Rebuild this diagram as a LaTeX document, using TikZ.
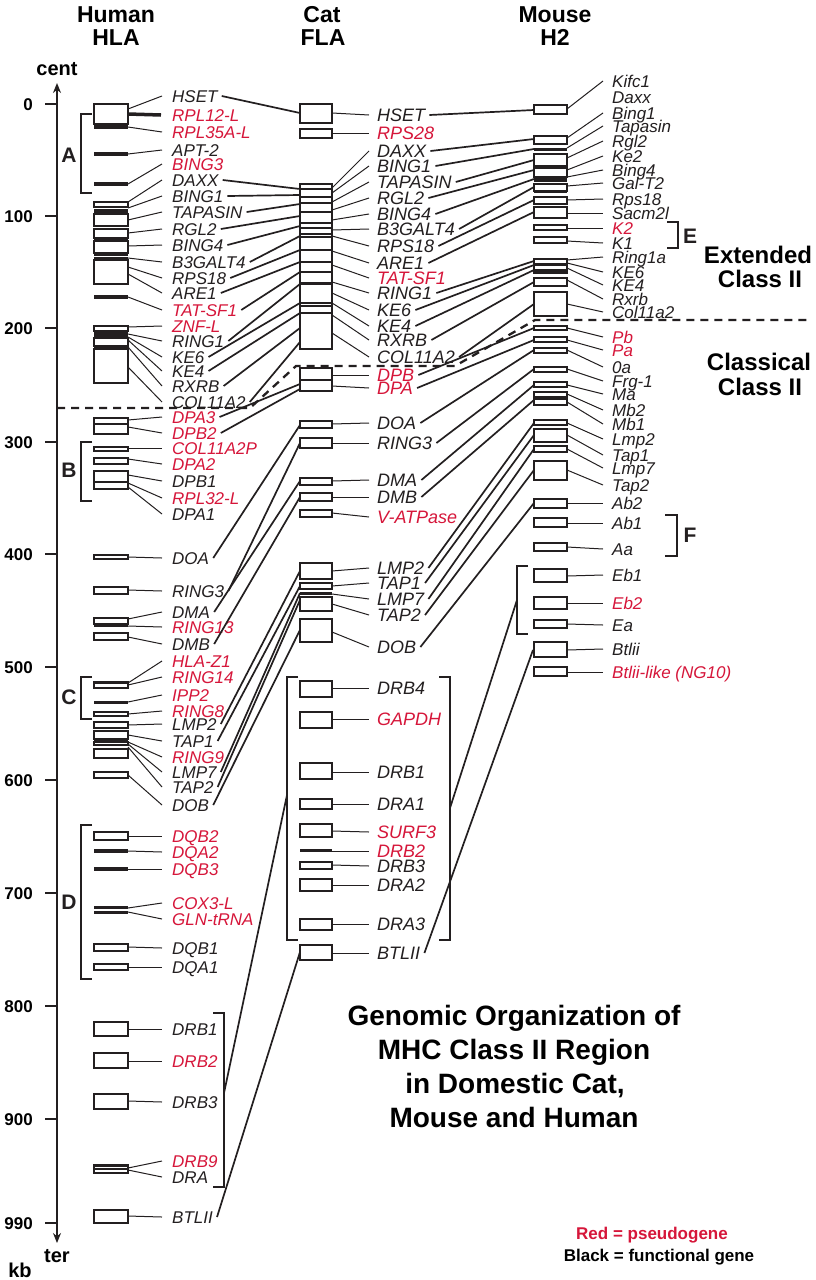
\documentclass[tikz,border=0pt]{standalone}
\usepackage{fontspec}
\setmainfont{Liberation Sans}
\usetikzlibrary{arrows.meta}
\definecolor{ink}{RGB}{35,31,32}
\definecolor{pseudo}{RGB}{214,22,58}
\newcommand\hgene[5]{\node[lab,#5] (#1) at (168,#2) {#3};\draw[gc] (128,#4) -- ([xshift=-6pt]#1.west);}
\newcommand\cgene[5]{\node[clab,#5] (#1) at (373,#2) {#3};\draw[gc] (332,#4) -- ([xshift=-4pt]#1.west);}
\newcommand\mgene[5]{\node[lab,#5] (#1) at (608,#2) {#3};\draw[gc] (567,#4) -- ([xshift=-5pt]#1.west);}
\newcommand\hbx[2]{\draw[gbox] (94,#1) rectangle (128,#2);}
\newcommand\hbr[2]{\fill[ink] (94,#1) rectangle (128,#2);}
\newcommand\cbx[2]{\draw[gbox] (300,#1) rectangle (332,#2);}
\newcommand\cbr[2]{\fill[ink] (300,#1) rectangle (332,#2);}
\newcommand\mbx[2]{\draw[gbox] (534,#1) rectangle (567,#2);}
\newcommand\mbr[2]{\fill[ink] (534,#1) rectangle (567,#2);}
\begin{document}
\begin{tikzpicture}[x=1pt,y=-1pt,
  lab/.style={anchor=west, inner xsep=4pt, inner ysep=0pt, text height=12pt, text depth=0pt, text=ink, font=\fontsize{17}{17}\selectfont\itshape},
  clab/.style={lab, text height=13pt, font=\fontsize{18}{18}\selectfont\itshape},
  ps/.style={text=pseudo},
  blk/.style={},
  gc/.style={draw=ink, line width=1pt},
  xc/.style={draw=ink, line width=1.7pt},
  gbox/.style={draw=ink, line width=1.3pt, fill=white},
  brk/.style={draw=ink, line width=2.3pt},
  hdr/.style={anchor=base, inner sep=0pt, text=black, font=\fontsize{23}{23}\selectfont\bfseries},
  axl/.style={anchor=base, inner sep=0pt, text=black, font=\fontsize{20}{20}\selectfont\bfseries},
  tick/.style={anchor=east, inner sep=0pt, text height=12pt, text depth=0pt, text=black, font=\fontsize{17}{17}\selectfont\bfseries},
  let/.style={inner sep=0pt, text height=14pt, text depth=0pt, text=ink, font=\fontsize{21}{21}\selectfont\bfseries},
  big/.style={anchor=base, inner sep=0pt, text=black, font=\fontsize{24}{24}\selectfont\bfseries},
  ttl/.style={anchor=base, inner sep=0pt, text=black, font=\fontsize{28}{28}\selectfont\bfseries},
  leg/.style={anchor=base, inner sep=0pt, font=\fontsize{17}{17}\selectfont\bfseries}]
\useasboundingbox (0,0) rectangle (815,1280);
\fill[white] (0,0) rectangle (815,1280);

% headers
\node[hdr] (hh1) at (116,22) {Human};
\node[hdr] (hh2) at (116,45) {HLA};
\node[hdr] (ch1) at (322,22) {Cat};
\node[hdr] (ch2) at (323,45) {FLA};
\node[hdr] (mh1) at (555,22) {Mouse};
\node[hdr] (mh2) at (555,45) {H2};

% axis
\draw[ink, line width=2pt, {Stealth[length=10pt,width=8pt]}-{Stealth[length=10pt,width=8pt]}] (57,83) -- (57,1243);
\node[axl] (cent) at (57,75) {cent};
\node[axl] (ter) at (57,1262) {ter};
\node[axl] (kb) at (20,1277) {kb};
\foreach \v/\y in {0/104,100/216,200/328,300/442,400/554,500/667,600/780,700/893,800/1006,900/1119,990/1223}{
  \draw[ink, line width=2pt] (45,\y) -- (57,\y);
  \node[tick] (t\v) at (33,\y) {\v};
}

% dashed boundary
\draw[ink, line width=2.3pt, dash pattern=on 8pt off 6pt] (57,408) -- (250,408) -- (296,366) -- (455,366) -- (535,320) -- (808,320);

% ---------- Human boxes
\hbx{104}{124}\hbr{124}{129}
\hbr{152}{156}
\hbr{182}{186}
\hbx{202}{207}\hbr{209}{214}\hbx{214}{226}\hbx{229}{238}\hbr{238}{241}\hbx{241}{253}\hbr{253}{256}\hbr{257}{260}\hbx{260}{284}
\hbr{295}{299}
\hbx{326}{331}\hbr{331}{338}\hbx{338}{346}\hbr{346}{349}\hbx{349}{383}
\hbx{418}{434}\draw[ink,line width=1.2pt] (94,424) -- (128,424);
\hbx{447}{451}
\hbx{458}{464}
\hbx{471}{489}\hbr{481}{483}
\hbx{555}{559}
\hbx{587}{594}
\hbx{618}{624}\hbr{624}{627}
\hbx{633}{640}
\hbx{682}{688}\hbr{682}{684}
\hbr{701}{704}
\hbx{712}{716}
\hbx{722}{728}
\hbx{731}{739}\hbr{739}{742}\hbx{742}{745}
\hbx{749}{758}
\hbx{772}{778}
\hbx{832}{840}
\hbr{849}{853}
\hbr{867}{871}
\hbr{906}{909}\hbr{911}{914}
\hbx{944}{951}
\hbx{964}{970}
\hbx{1022}{1036}
\hbx{1053}{1068}
\hbx{1094}{1109}
\hbx{1165}{1173}\hbr{1165}{1167}\draw[ink,line width=1.2pt] (94,1169) -- (128,1169);
\hbx{1210}{1223}

% human brackets
\draw[brk] (92,114) -- (81,114) -- (81,193) -- (92,193);
\draw[brk] (92,442) -- (81,442) -- (81,501) -- (92,501);
\draw[brk] (92,677) -- (81,677) -- (81,719) -- (92,719);
\draw[brk] (92,825) -- (81,825) -- (81,979) -- (92,979);
\draw[brk] (213,1013) -- (224,1013) -- (224,1187) -- (213,1187);
\node[let] (lA) at (69,155) {A};
\node[let] (lB) at (69,470) {B};
\node[let] (lC) at (69,697) {C};
\node[let] (lD) at (69,902) {D};

% human genes
\hgene{hHSET}{96}{HSET}{109}{blk}
\node[lab,ps] (hRPL12) at (168,115) {RPL12-L};
\draw[ink, line width=3.5pt] (128,114) -- ([xshift=-7pt]hRPL12.west);
\hgene{hRPL35}{132}{RPL35A-L}{127}{ps}
\hgene{hAPT}{150}{APT-2}{154}{blk}
\hgene{hBING3}{164}{BING3}{184}{ps}
\hgene{hDAXX}{180}{DAXX}{202}{blk}
\hgene{hBING1}{196}{BING1}{208}{blk}
\hgene{hTAP}{212}{TAPASIN}{220}{blk}
\hgene{hRGL2}{229}{RGL2}{233}{blk}
\hgene{hBING4}{245}{BING4}{246}{blk}
\hgene{hB3G}{262}{B3GALT4}{258}{blk}
\hgene{hRPS18}{278}{RPS18}{267}{blk}
\hgene{hARE1}{293}{ARE1}{274}{blk}
\hgene{hTAT}{310}{TAT-SF1}{297}{ps}
\hgene{hZNF}{326}{ZNF-L}{327}{ps}
\hgene{hRING1}{341}{RING1}{334}{blk}
\hgene{hKE6}{357}{KE6}{337}{blk}
\hgene{hKE4}{371}{KE4}{340}{blk}
\hgene{hRXRB}{386}{RXRB}{347}{blk}
\hgene{hCOL}{402}{COL11A2}{367}{blk}
\hgene{hDPA3}{417}{DPA3}{420}{ps}
\hgene{hDPB2}{433}{DPB2}{427}{ps}
\hgene{hCOLP}{448}{COL11A2P}{448}{ps}
\hgene{hDPA2}{464}{DPA2}{459}{ps}
\hgene{hDPB1}{481}{DPB1}{475}{blk}
\hgene{hRPL32}{498}{RPL32-L}{483}{ps}
\hgene{hDPA1}{514}{DPA1}{487}{blk}
\hgene{hDOA}{558}{DOA}{557}{blk}
\hgene{hRING3}{591}{RING3}{590}{blk}
\hgene{hDMA}{612}{DMA}{619}{blk}
\hgene{hRING13}{627}{RING13}{626}{ps}
\hgene{hDMB}{644}{DMB}{637}{blk}
\hgene{hZ1}{661}{HLA-Z1}{683}{ps}
\hgene{hRING14}{677}{RING14}{685}{ps}
\hgene{hIPP2}{695}{IPP2}{702}{ps}
\hgene{hRING8}{711}{RING8}{714}{ps}
\hgene{hLMP2}{724}{LMP2}{725}{blk}
\hgene{hTAP1}{741}{TAP1}{735}{blk}
\hgene{hRING9}{757}{RING9}{742}{ps}
\hgene{hLMP7}{772}{LMP7}{744}{blk}
\hgene{hTAP2}{787}{TAP2}{747}{blk}
\hgene{hDOB}{805}{DOB}{775}{blk}
\hgene{hDQB2}{836}{DQB2}{836}{ps}
\hgene{hDQA2}{852}{DQA2}{851}{ps}
\hgene{hDQB3}{869}{DQB3}{869}{ps}
\hgene{hCOX}{903}{COX3-L}{908}{ps}
\hgene{hGLN}{919}{GLN-tRNA}{912}{ps}
\hgene{hDQB1}{948}{DQB1}{947}{blk}
\hgene{hDQA1}{967}{DQA1}{967}{blk}
\hgene{hDRB1}{1029}{DRB1}{1029}{blk}
\hgene{hDRB2}{1061}{DRB2}{1061}{ps}
\hgene{hDRB3}{1102}{DRB3}{1101}{blk}
\hgene{hDRB9}{1161}{DRB9}{1168}{ps}
\hgene{hDRA}{1177}{DRA}{1170}{blk}
\hgene{hBTL}{1217}{BTLII}{1216}{blk}

% ---------- Cat boxes
\cbx{104}{123}
\cbx{129}{138}
\cbx{184}{349}
\foreach \y in {189,197,203,212,228,234,237,250,262,272,303,306,313}{\draw[ink,line width=1.1pt] (300,\y) -- (332,\y);}
\cbr{222}{224}\cbr{282}{285}
\cbx{368}{391}\draw[ink,line width=1.2pt] (300,380) -- (332,380);
\cbx{421}{428}
\cbx{438}{448}
\cbx{478}{485}
\cbx{493}{501}
\cbx{510}{517}
\cbx{563}{579}
\cbx{583}{589}
\cbr{592}{595}
\cbx{597}{611}
\cbx{619}{642}
\cbx{681}{697}
\cbx{712}{728}
\cbx{763}{779}
\cbx{799}{809}
\cbx{824}{837}
\cbr{849}{852}
\cbx{862}{869}
\cbx{879}{891}
\cbx{919}{930}
\cbx{945}{960}
% cat brackets
\draw[brk] (298,677) -- (287,677) -- (287,940) -- (298,940);
\draw[brk] (439,677) -- (450,677) -- (450,940) -- (439,940);

% cat genes
\cgene{cHSET}{115}{HSET}{113}{blk}
\cgene{cRPS28}{133}{RPS28}{133}{ps}
\cgene{cDAXX}{151}{DAXX}{188}{blk}
\cgene{cBING1}{166}{BING1}{193}{blk}
\cgene{cTAP}{182}{TAPASIN}{202}{blk}
\cgene{cRGL2}{198}{RGL2}{210}{blk}
\cgene{cBING4}{214}{BING4}{220}{blk}
\cgene{cB3G}{229}{B3GALT4}{230}{blk}
\cgene{cRPS18}{246}{RPS18}{236}{blk}
\cgene{cARE1}{263}{ARE1}{251}{blk}
\cgene{cTAT}{278}{TAT-SF1}{265}{ps}
\cgene{cRING1}{293}{RING1}{282}{blk}
\cgene{cKE6}{310}{KE6}{293}{blk}
\cgene{cKE4}{326}{KE4}{303}{blk}
\cgene{cRXRB}{340}{RXRB}{315}{blk}
\cgene{cCOL}{357}{COL11A2}{333}{blk}
\cgene{cDPB}{375}{DPB}{375}{ps}
\cgene{cDPA}{388}{DPA}{386}{ps}
\cgene{cDOA}{423}{DOA}{424}{blk}
\cgene{cRING3}{443}{RING3}{443}{blk}
\cgene{cDMA}{480}{DMA}{481}{blk}
\cgene{cDMB}{497}{DMB}{497}{blk}
\cgene{cVAT}{517}{V-ATPase}{513}{ps}
\cgene{cLMP2}{568}{LMP2}{571}{blk}
\cgene{cTAP1}{583}{TAP1}{586}{blk}
\cgene{cLMP7}{599}{LMP7}{594}{blk}
\cgene{cTAP2}{615}{TAP2}{604}{blk}
\cgene{cDOB}{647}{DOB}{632}{blk}
\cgene{cDRB4}{688}{DRB4}{688}{blk}
\cgene{cGAP}{719}{GAPDH}{719}{ps}
\cgene{cDRB1}{772}{DRB1}{772}{blk}
\cgene{cDRA1}{804}{DRA1}{804}{blk}
\cgene{cSURF}{832}{SURF3}{831}{ps}
\cgene{cDRB2}{851}{DRB2}{851}{ps}
\cgene{cDRB3}{866}{DRB3}{865}{blk}
\cgene{cDRA2}{885}{DRA2}{885}{blk}
\cgene{cDRA3}{924}{DRA3}{924}{blk}
\cgene{cBTL}{953}{BTLII}{953}{blk}

% ---------- Mouse boxes
\mbx{105}{114}
\mbx{136}{144}\mbr{148}{151}
\mbx{154}{166}
\mbx{168}{177}\mbr{177}{182}
\mbx{184}{191}\mbr{191}{193}
\mbx{197}{204}
\mbx{207}{218}
\mbx{225}{230}
\mbx{237}{243}
\mbx{259}{273}\mbr{263}{266}\mbr{269}{272}
\mbx{278}{286}
\mbx{292}{316}
\mbx{326}{330}
\mbx{337}{342}
\mbx{348}{353}
\mbx{367}{372}
\mbx{382}{387}
\mbx{392}{397}
\mbx{399}{405}
\mbx{420}{425}
\mbx{429}{442}
\mbx{446}{452}
\mbx{461}{480}
\mbx{499}{508}
\mbx{518}{527}
\mbx{543}{551}
\mbx{569}{582}
\mbx{597}{609}
\mbx{620}{628}
\mbx{642}{657}
\mbx{667}{676}
% mouse brackets
\draw[brk] (667,222) -- (678,222) -- (678,248) -- (667,248);
\draw[brk] (665,515) -- (677,515) -- (677,556) -- (665,556);
\draw[brk] (528,566) -- (517,566) -- (517,634) -- (528,634);
\node[let] (lE) at (690,236) {E};
\node[let] (lF) at (690,535) {F};

% mouse genes
\mgene{mKifc}{81}{Kifc1}{109}{blk}
\node[lab] (mDaxx) at (608,97) {Daxx};
\mgene{mBing1}{113}{Bing1}{138}{blk}
\mgene{mTapasin}{126}{Tapasin}{148}{blk}
\mgene{mRgl2}{141}{Rgl2}{158}{blk}
\mgene{mKe2}{156}{Ke2}{170}{blk}
\mgene{mBing4}{170}{Bing4}{177}{blk}
\mgene{mGal}{183}{Gal-T2}{186}{blk}
\mgene{mRps18}{199}{Rps18}{200}{blk}
\mgene{mSacm}{213}{Sacm2l}{213}{blk}
\mgene{mK2}{228}{K2}{228}{ps}
\mgene{mK1}{243}{K1}{241}{blk}
\mgene{mRing1a}{257}{Ring1a}{260}{blk}
\mgene{mKE6}{272}{KE6}{263}{blk}
\mgene{mKE4}{285}{KE4}{268}{blk}
\mgene{mRxrb}{299}{Rxrb}{280}{blk}
\mgene{mCol}{312}{Col11a2}{304}{blk}
\mgene{mPb}{337}{Pb}{328}{ps}
\mgene{mPa}{350}{Pa}{340}{ps}
\mgene{mOa}{367}{0a}{350}{blk}
\mgene{mFrg}{381}{Frg-1}{369}{blk}
\mgene{mMa}{394}{Ma}{385}{blk}
\mgene{mMbb}{410}{Mb2}{394}{blk}
\mgene{mMba}{424}{Mb1}{402}{blk}
\mgene{mLmp2}{439}{Lmp2}{423}{blk}
\mgene{mTap1}{455}{Tap1}{435}{blk}
\mgene{mLmp7}{468}{Lmp7}{449}{blk}
\mgene{mTap2}{485}{Tap2}{470}{blk}
\mgene{mAb2}{503}{Ab2}{503}{blk}
\mgene{mAb1}{523}{Ab1}{523}{blk}
\mgene{mAa}{549}{Aa}{547}{blk}
\mgene{mEb1}{575}{Eb1}{576}{blk}
\mgene{mEb2}{603}{Eb2}{603}{ps}
\mgene{mEa}{625}{Ea}{624}{blk}
\mgene{mBtl}{649}{Btlii}{650}{blk}
\mgene{mBtlL}{672}{Btlii-like (NG10)}{672}{ps}

% ---------- Human -> Cat
\draw[xc] (hHSET.east) -- (300,113);
\draw[xc] (hDAXX.east) -- (300,189);
\draw[xc] (hBING1.east) -- (300,195);
\draw[xc] (hTAP.east) -- (300,204);
\draw[xc] (hRGL2.east) -- (300,216);
\draw[xc] (hBING4.east) -- (300,226);
\draw[xc] (hB3G.east) -- (300,236);
\draw[xc] (hRPS18.east) -- (300,250);
\draw[xc] (hARE1.east) -- (300,262);
\draw[xc] (hTAT.east) -- (300,272);
\draw[xc] (hRING1.east) -- (300,284);
\draw[xc] (hKE6.east) -- (300,303);
\draw[xc] (hKE4.east) -- (300,313);
\draw[xc] (hRXRB.east) -- (300,328);
\draw[xc] (hCOL.east) -- (300,342);
\draw[xc] (hDPA3.east) -- (300,384);
\draw[xc] (hDPB2.east) -- (300,389);
\draw[xc] (hDOA.east) -- (300,425);
\draw[xc] (hRING3.east) -- (300,443);
\draw[xc] (hDMA.east) -- (300,481);
\draw[xc] (hDMB.east) -- (300,497);
\draw[xc] (hLMP2.east) -- (300,571);
\draw[xc] (hTAP1.east) -- (300,586);
\draw[xc] (hLMP7.east) -- (300,593);
\draw[xc] (hTAP2.east) -- (300,600);
\draw[xc] (hDOB.east) -- (300,630);
\draw[xc] (hBTL.east) -- (300,952);
\coordinate (hDRk) at (224,1093);
\coordinate (cDRl) at (287,795);
\draw[xc] (hDRk) -- (cDRl);

% ---------- Cat -> Mouse
\draw[xc] (cHSET.east) -- (534,110);
\draw[xc] (cDAXX.east) -- (534,139);
\draw[xc] (cBING1.east) -- (534,149);
\draw[xc] (cTAP.east) -- (534,160);
\draw[xc] (cRGL2.east) -- (534,170);
\draw[xc] (cBING4.east) -- (534,179);
\draw[xc] (cB3G.east) -- (534,187);
\draw[xc] (cRPS18.east) -- (534,200);
\draw[xc] (cARE1.east) -- (534,212);
\draw[xc] (cRING1.east) -- (534,261);
\draw[xc] (cKE6.east) -- (534,265);
\draw[xc] (cKE4.east) -- (534,270);
\draw[xc] (cRXRB.east) -- (534,282);
\draw[xc] (cCOL.east) -- (534,304);
\draw[xc] (cDPB.east) -- (534,328);
\draw[xc] (cDPA.east) -- (534,340);
\draw[xc] (cDOA.east) -- (534,350);
\draw[xc] (cRING3.east) -- (534,369);
\draw[xc] (cDMA.east) -- (534,385);
\draw[xc] (cDMB.east) -- (534,400);
\draw[xc] (cLMP2.east) -- (534,423);
\draw[xc] (cTAP1.east) -- (534,435);
\draw[xc] (cLMP7.east) -- (534,449);
\draw[xc] (cTAP2.east) -- (534,470);
\draw[xc] (cDOB.east) -- (534,503);
\draw[xc] (cBTL.east) -- (533,650);
\coordinate (cDRr) at (450,808);
\coordinate (mEbk) at (517,600);
\draw[xc] (cDRr) -- (mEbk);

% ---------- side texts
\node[big] (ext1) at (758,263) {Extended};
\node[big] (ext2) at (760,287) {Class II};
\node[big] (cls1) at (759,370) {Classical};
\node[big] (cls2) at (760,395) {Class II};

\node[ttl] (ti1) at (514,1025) {Genomic Organization of};
\node[ttl] (ti2) at (514,1059) {MHC Class II Region};
\node[ttl] (ti3) at (515,1093) {in Domestic Cat,};
\node[ttl] (ti4) at (514,1127) {Mouse and Human};

\node[leg, text=pseudo] (lg1) at (652,1239) {Red = pseudogene};
\node[leg, text=black] (lg2) at (659,1261) {Black = functional gene};
\end{tikzpicture}
\end{document}
